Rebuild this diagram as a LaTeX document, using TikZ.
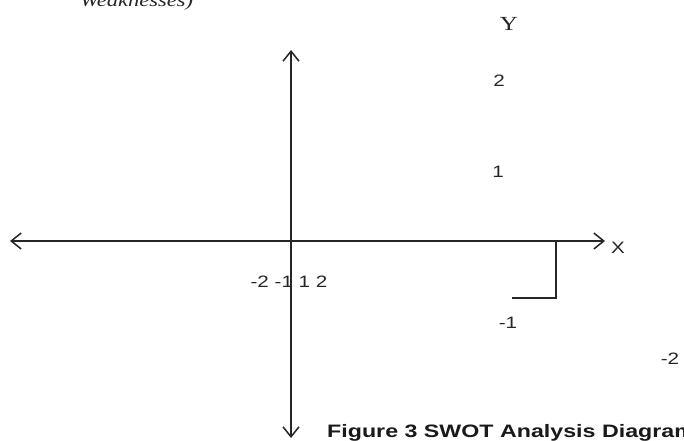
\documentclass[tikz,border=0pt]{standalone}
\usepackage{fontspec}
\setmainfont{Liberation Serif}
\setsansfont{Liberation Sans}
\usetikzlibrary{arrows.meta}
\tikzset{
  axis/.style={line width=1.5pt, black!85, -{Straight Barb[length=10pt,width=16pt,line width=1.5pt]}},
  bracket/.style={line width=1.3pt, black!85},
  lbl/.style={inner sep=0pt, anchor=base, font=\sffamily\fontsize{16.5}{16.5}\selectfont, text=black!85},
}
\newcommand{\xs}[1]{\scalebox{1.25}[1]{#1}}
\newcommand{\xw}[1]{\scalebox{1.29}[1]{#1}}
\begin{document}
\begin{tikzpicture}[x=1pt,y=-1pt]
\useasboundingbox (0,0) rectangle (684,440);
% axis end points
\coordinate (o) at (291,241);
\coordinate (xl) at (10,241);
\coordinate (xr) at (605,241);
\coordinate (yt) at (291,50);
\coordinate (yb) at (291,438);
\coordinate (b1) at (556,241);
\coordinate (b2) at (556,298);
\coordinate (b3) at (512,298);
% axes
\draw[axis] (o) -- (xl);
\draw[axis] (o) -- (xr);
\draw[axis] (o) -- (yt);
\draw[axis] (o) -- (yb);
% bracket
\draw[bracket] (b1) -- (b2) -- (b3);
% labels
\node[inner sep=0pt, anchor=base west, font=\itshape\fontsize{18}{18}\selectfont, text=black!85] (weak) at (80,6) {\xs{Weaknesses)}};
\node[inner sep=0pt, anchor=base, font=\fontsize{20}{20}\selectfont, text=black!85] (ylab) at (509,30) {\xs{Y}};
\node[lbl] (y2) at (499,86) {\xs{2}};
\node[lbl] (y1) at (498,177) {\xs{1}};
\node[lbl] (xlab) at (618,253) {\xs{X}};
\node[lbl] (xticks) at (289,287) {\xs{-2 -1 1 2}};
\node[lbl] (m1) at (508,328) {\xs{-1}};
\node[lbl] (m2) at (670,364) {\xs{-2}};
\node[inner sep=0pt, anchor=base west, font=\sffamily\bfseries\fontsize{18}{18}\selectfont, text=black!90] (cap) at (327,437) {\xw{Figure 3 SWOT Analysis Diagram}};
\end{tikzpicture}
\end{document}
